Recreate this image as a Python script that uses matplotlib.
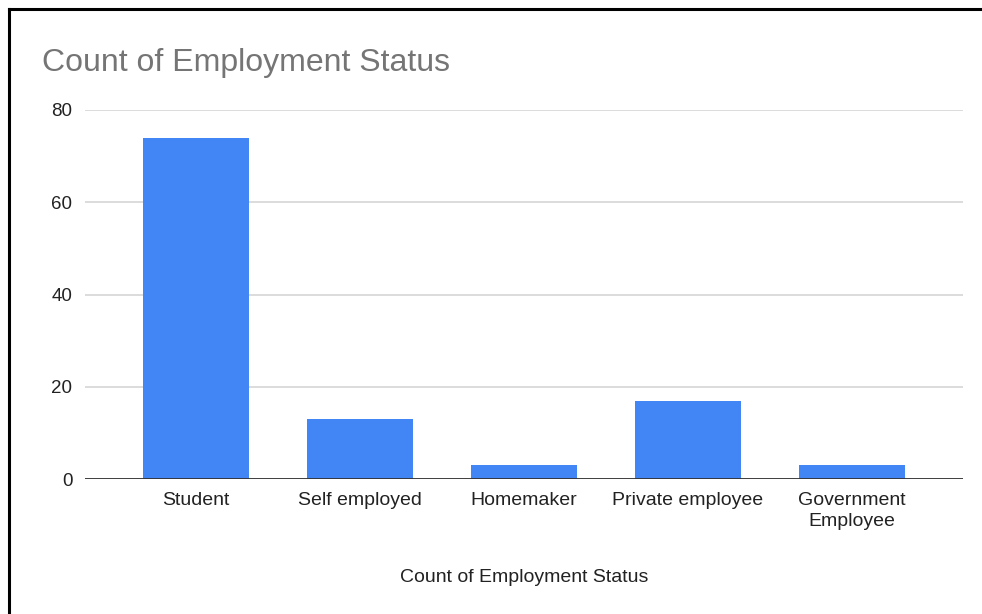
import matplotlib.pyplot as plt
from matplotlib.lines import Line2D

plt.rcParams['font.family'] = ['Liberation Sans', 'DejaVu Sans']

categories = ["Student", "Self employed", "Homemaker", "Private employee", "Government\nEmployee"]
counts = [74, 13, 3, 17, 3]
yticks = [0, 20, 40, 60, 80]

W, H = 982, 614
fig = plt.figure(figsize=(W / 100, H / 100), dpi=100)
ax = fig.add_axes([85 / W, 1 - 479 / H, (963 - 85) / W, (479 - 110) / H])

x = range(len(categories))
ax.bar(x, counts, width=0.646, color="#4285F4", zorder=3)

ax.set_xlim(-0.677, len(categories) - 1 + 0.677)
ax.set_ylim(0, 80)
ax.set_yticks(yticks)
ax.set_yticklabels([str(t) for t in yticks])
ax.set_xticks(list(x))
ax.set_xticklabels(categories, linespacing=1.28)

ax.grid(axis="y", color="#d6d6d6", linewidth=1.2, zorder=0)
ax.axhline(0, color="#333333", linewidth=1.3, zorder=4)
for s in ax.spines.values():
    s.set_visible(False)
ax.tick_params(axis="both", length=0, labelcolor="#222222")
ax.tick_params(axis="x", pad=9.5, labelsize=14)
ax.tick_params(axis="y", pad=9, labelsize=13.5)

fig.text(0.5 * (85 + 963) / W, 1 - 577 / H, "Count of Employment Status", fontsize=14,
         color="#222222", va="center", ha="center")
fig.text(42 / W, 1 - 63 / H, "Count of Employment Status", fontsize=23,
         color="#757575", va="center", ha="left")

# frame lines on the top and left edges
fig.add_artist(Line2D([9 / W, 9 / W], [0, 1 - 9 / H], color="black", linewidth=2.2,
                      transform=fig.transFigure))
fig.add_artist(Line2D([9 / W, 1], [1 - 9 / H, 1 - 9 / H], color="black", linewidth=2.2,
                      transform=fig.transFigure))

fig.savefig("out.png", dpi=100)
